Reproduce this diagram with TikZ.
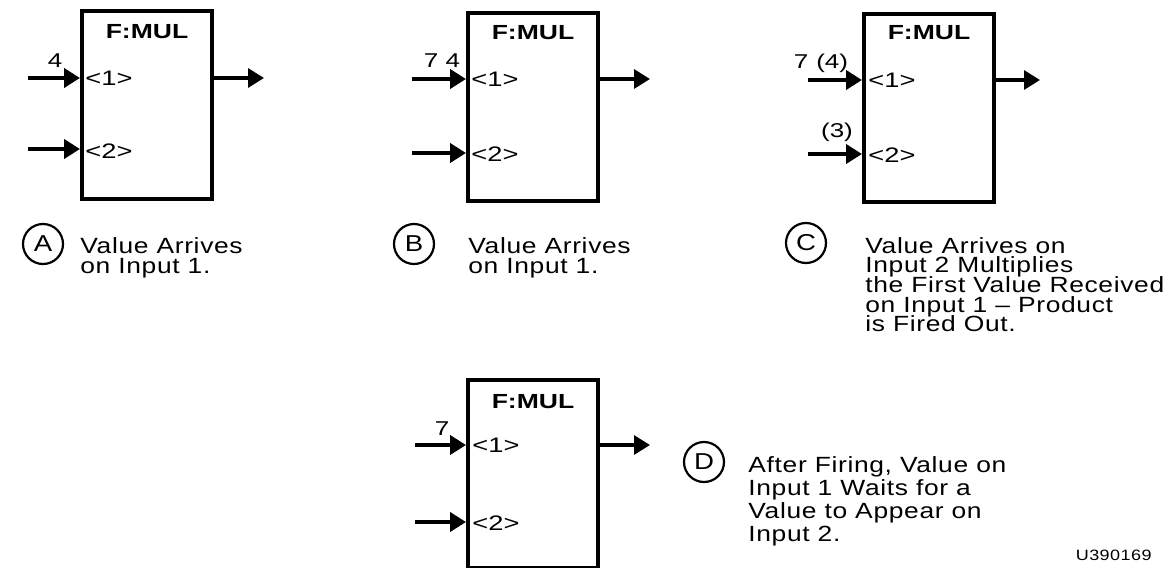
\documentclass[tikz,border=0pt]{standalone}
\usepackage{fontspec}
\setmainfont{Liberation Sans}[FakeStretch=1.2,LetterSpace=3]
\newfontfamily\boxfont{Liberation Sans}[FakeStretch=1.3]
\usetikzlibrary{arrows.meta}
\begin{document}
\begin{tikzpicture}[x=0.5pt,y=-0.5pt,
  fbox/.style={draw,line width=2pt,minimum width=65pt,minimum height=94pt,inner sep=0pt},
  title/.style={font=\boxfont\bfseries\fontsize{10.2}{12}\selectfont,inner sep=0pt},
  port/.style={font=\boxfont\fontsize{10.5}{12}\selectfont,inner sep=0pt,anchor=west},
  val/.style={font=\boxfont\fontsize{10}{12}\selectfont,inner sep=0pt,anchor=base},
  inarr/.style={line width=2.2pt,-{Triangle[length=8pt,width=9.5pt]}},
  outarr/.style={line width=1.6pt,-{Triangle[length=8pt,width=9.5pt]}},
  circ/.style={draw,circle,line width=1.1pt,minimum size=20pt,inner sep=0pt,font=\fontsize{11.5}{12}\selectfont},
  desc/.style={anchor=north west,inner sep=0pt,align=left},
]
\useasboundingbox (0,0) rectangle (1175,568);

% ---------- A ----------
\node[fbox] (A) at (147,104.5) {};
\node[title] (At) at (147,32) {F:MUL};
\node[port] (A1) at (85,78) {<1>};
\node[port] (A2) at (85,151) {<2>};
\coordinate (ai1) at (28,78);
\coordinate (ai2) at (28,149);
\coordinate (ao) at (264,78);
\draw[inarr] (ai1) -- (ai1 -| A.west);
\draw[inarr] (ai2) -- (ai2 -| A.west);
\draw[outarr] (ai1 -| A.east) -- (ao);
\node[val] (Av) at (55,67) {4};
\node[circ] (cA) at (43,244) {A};
\node[desc,font={\fontsize{11}{10.3}\selectfont\lineskiplimit=-100pt}] (tA) at (80,237) {Value Arrives\\on Input 1.};

% ---------- B ----------
\node[fbox] (B) at (533,106.5) {};
\node[title] (Bt) at (533,33) {F:MUL};
\node[port] (B1) at (471,79) {<1>};
\node[port] (B2) at (471,154) {<2>};
\coordinate (bi1) at (412,79);
\coordinate (bi2) at (412,153);
\coordinate (bo) at (650,79);
\draw[inarr] (bi1) -- (bi1 -| B.west);
\draw[inarr] (bi2) -- (bi2 -| B.west);
\draw[outarr] (bi1 -| B.east) -- (bo);
\node[val] (Bv) at (442,67) {7 4};
\node[circ] (cB) at (414,244) {B};
\node[desc,font={\fontsize{11}{10.3}\selectfont\lineskiplimit=-100pt}] (tB) at (468,237) {Value Arrives\\on Input 1.};

% ---------- C ----------
\node[fbox] (C) at (929,107.5) {};
\node[title] (Ct) at (929,33) {F:MUL};
\node[port] (C1) at (868,80) {<1>};
\node[port] (C2) at (868,155) {<2>};
\coordinate (ci1) at (808,80);
\coordinate (ci2) at (808,154);
\coordinate (co) at (1040,80);
\draw[inarr] (ci1) -- (ci1 -| C.west);
\draw[inarr] (ci2) -- (ci2 -| C.west);
\draw[outarr] (ci1 -| C.east) -- (co);
\node[val] (Cv1) at (821,68) {7\hspace{4pt}(4)};
\node[val] (Cv2) at (837,137) {(3)};
\node[circ] (cC) at (806,243) {C};
\node[desc,font={\fontsize{11}{9.8}\selectfont\lineskiplimit=-100pt}] (tC) at (865,237) {Value Arrives on\\Input 2 Multiplies\\the First Value Received\\on Input 1 -- Product\\is Fired Out.};

% ---------- D ----------
\node[fbox] (D) at (533,474) {};
\node[title] (Dt) at (533,402) {F:MUL};
\node[port] (D1) at (472,445) {<1>};
\node[port] (D2) at (472,523) {<2>};
\coordinate (di1) at (415,445);
\coordinate (di2) at (415,522);
\coordinate (do) at (650,445);
\draw[inarr] (di1) -- (di1 -| D.west);
\draw[inarr] (di2) -- (di2 -| D.west);
\draw[outarr] (di1 -| D.east) -- (do);
\node[val] (Dv) at (442,435) {7};
\node[circ] (cD) at (704,462) {D};
\node[desc,font={\fontsize{11}{11.5}\selectfont\lineskiplimit=-100pt}] (tD) at (748,456) {After Firing, Value on\\Input 1 Waits for a\\Value to Appear on\\Input 2.};

\node[anchor=base east,inner sep=0pt,font=\fontsize{7.5}{9}\selectfont] (id) at (1152,560) {U390169};
\end{tikzpicture}
\end{document}
